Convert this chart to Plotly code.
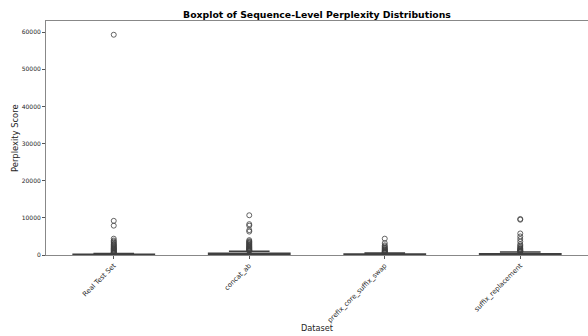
import plotly.graph_objects as go

categories = ["Real Test Set", "concat_ab", "prefix_core_suffix_swap", "suffix_replacement"]
q1 = [40, 80, 60, 60]
median = [90, 200, 130, 150]
q3 = [200, 450, 260, 330]
lowerfence = [5, 10, 8, 8]
upperfence = [430, 1000, 550, 800]

outliers_real = [59300, 9200, 7900, 4400, 3900, 3600, 3300, 3000, 2800, 2600, 2400, 2200,
                 2000, 1850, 1700, 1550, 1400, 1250, 1100, 950, 800, 700, 600, 500]
outliers_concat = [10700, 8300, 7900, 6700, 6300, 4000, 3700, 3500, 3300, 3100, 2900, 2700,
                   2500, 2300, 2150, 2000, 1850, 1700, 1550, 1400, 1300, 1200, 1100]
outliers_prefix = [4400, 3200, 2600, 2300, 2000, 1800, 1600, 1400, 1250, 1100, 950, 850,
                   750, 650, 600]
outliers_suffix = [9700, 9500, 5800, 5000, 4300, 3600, 2900, 2500, 2200, 1900, 1700, 1500,
                   1350, 1200, 1100, 1000, 900, 850]
outliers = [outliers_real, outliers_concat, outliers_prefix, outliers_suffix]
ytick_vals = [0, 10000, 20000, 30000, 40000, 50000, 60000]

edge = "#3f3f3f"
txt = "#262626"
L, R, T, B = 46, 0, 21, 81
W, H = 588, 336
pw, ph = W - L - R, H - T - B

fig = go.Figure()
for i, c in enumerate(categories):
    fig.add_trace(go.Box(
        x=[c], q1=[q1[i]], median=[median[i]], q3=[q3[i]],
        lowerfence=[lowerfence[i]], upperfence=[upperfence[i]],
        boxpoints=False, width=0.6, whiskerwidth=0.5,
        line=dict(color=edge, width=1.5), fillcolor="#4c72b0",
        showlegend=False,
    ))
    fig.add_trace(go.Scatter(
        x=[c] * len(outliers[i]), y=outliers[i], mode="markers",
        marker=dict(symbol="circle-open", size=5, color=edge, line=dict(width=0.8, color=edge)),
        showlegend=False,
    ))

fig.update_layout(
    width=W, height=H,
    margin=dict(l=L, r=R, t=T, b=B),
    paper_bgcolor="white", plot_bgcolor="white",
    font=dict(family="DejaVu Sans", color=txt),
    title=dict(text="<b>Boxplot of Sequence-Level Perplexity Distributions</b>",
               x=317 / W, xanchor="center", xref="container",
               y=1 - 15 / H, yanchor="middle", yref="container",
               font=dict(size=9.3, color="black"), automargin=False),
    annotations=[
        dict(text="Dataset", xref="paper", yref="paper", x=(317 - L) / pw,
             y=-(328 - (H - B)) / ph,
             xanchor="center", yanchor="middle", showarrow=False,
             font=dict(size=8.2, color=txt)),
        dict(text="Perplexity Score", xref="paper", yref="paper", x=(15 - L) / pw, y=0.5,
             xanchor="center", yanchor="middle", showarrow=False, textangle=-90,
             font=dict(size=8.4, color=txt)),
    ],
)
fig.update_xaxes(
    categoryorder="array", categoryarray=categories,
    range=[-0.5, 3.5], automargin=False,
    tickangle=-45, tickfont=dict(size=6.8, color=txt), ticks="outside", ticklen=3,
    tickcolor="#555", showline=True, linecolor="#888", linewidth=1, mirror=True,
    showgrid=False, zeroline=False,
)
fig.update_yaxes(
    range=[0, 63000], tickvals=ytick_vals, ticktext=[str(v) for v in ytick_vals],
    automargin=False,
    tickfont=dict(size=6, color=txt), ticks="outside", ticklen=3, tickcolor="#555",
    showline=True, linecolor="#888", linewidth=1, mirror=True,
    showgrid=False, zeroline=False,
)
fig.write_html("out.html", post_script="document.body.style.margin='0';",
               config={"displayModeBar": False})
